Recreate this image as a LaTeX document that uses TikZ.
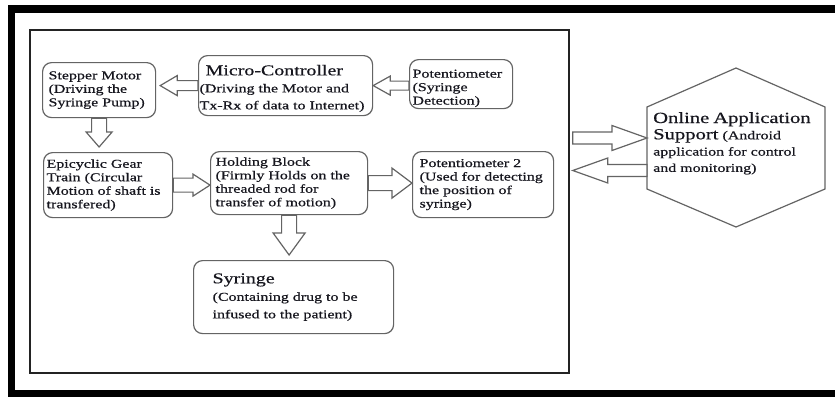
\documentclass[tikz,border=0pt]{standalone}
\usepackage{fontspec}
\setmainfont{Liberation Serif}[FakeStretch=1.33,FakeBold=0.6]
\usepackage{tikz}
\usetikzlibrary{arrows.meta,calc}
\definecolor{boxline}{RGB}{100,100,100}
\definecolor{inkcol}{RGB}{22,22,30}
\definecolor{panelcol}{RGB}{35,35,35}
% hollow block arrow: #1 shaft half width, #2 head half width, #3 head length, #4 tail, #5 tip
\newcommand{\blockarrow}[5]{%
  \coordinate (ba-base) at ($(#5)!#3!(#4)$);
  \draw[fatarrow] ($(#4)!#1!90:(#5)$) -- ($(ba-base)!#1!90:(#5)$) -- ($(ba-base)!#2!90:(#5)$) -- (#5)
    -- ($(ba-base)!#2!-90:(#5)$) -- ($(ba-base)!#1!-90:(#5)$) -- ($(#4)!#1!-90:(#5)$) -- cycle;}

\begin{document}
\begin{tikzpicture}[x=1pt,y=-1pt,
    box/.style={rectangle,draw=boxline,line width=1.2pt,rounded corners=9pt,anchor=north west,align=left,
      inner xsep=1pt,inner ysep=1pt,text=inkcol,font=\fontsize{12}{13.5}\selectfont},
    textindent/.style={execute at begin node={\leftskip=#1}},
    fatarrow/.style={draw=boxline,fill=white,line width=1.2pt,line join=miter},
    hexline/.style={draw=boxline,line width=1.2pt}]
  \useasboundingbox (0,0) rectangle (835,399);
  \fill[white] (0,0) rectangle (835,399);
  \clip (0,0) rectangle (835,399);
  % outer frame, cut off on the right
  \draw[line width=7.5pt] (11.5,9) rectangle (860,393.5);
  \node[draw=panelcol,line width=2.5pt,minimum width=539pt,minimum height=343pt,inner sep=0pt] (panel) at (299.5,201.5) {};

  \node[box,text width=111pt,minimum height=55pt,textindent=5pt] (stepper) at (42,62)
    {Stepper Motor\\(Driving the\\Syringe Pump)};
  \node[box,text width=172pt,minimum height=60pt,text height=16pt,font=\fontsize{12}{17}\selectfont] (mcu) at (198,55)
    {\hspace*{6pt}{\fontsize{15}{17}\selectfont Micro-Controller}\\(Driving the Motor and\\Tx-Rx of data to Internet)};
  \node[box,text width=101pt,minimum height=49pt,text height=16.5pt,textindent=2pt] (pot1) at (409,59)
    {Potentiometer\\(Syringe\\Detection)};
  \node[box,text width=127pt,minimum height=65pt,textindent=2pt] (epi) at (43,152)
    {Epicyclic Gear\\Train (Circular\\Motion of shaft is\\transfered)};
  \node[box,text width=155pt,minimum height=63pt,textindent=4pt] (hold) at (210,151)
    {Holding Block\\(Firmly Holds on the\\threaded rod for\\transfer of motion)};
  \node[box,text width=139pt,minimum height=66pt,textindent=6pt] (pot2) at (412,151)
    {Potentiometer 2\\(Used for detecting\\the position of\\syringe)};
  \node[box,text width=198pt,minimum height=73pt,textindent=18pt,font=\fontsize{12}{17.5}\selectfont] (syr) at (193,260)
    {{\fontsize{15}{17.5}\selectfont Syringe}\\(Containing drug to be\\infused to the patient)};

  % online application hexagon
  \coordinate (hexn) at (736,68);
  \coordinate (hexne) at (825,107);
  \coordinate (hexse) at (825,189);
  \coordinate (hexs) at (736,227);
  \coordinate (hexsw) at (647,189);
  \coordinate (hexnw) at (647,107);
  \draw[hexline] (hexn) -- (hexne) -- (hexse) -- (hexs) -- (hexsw) -- (hexnw) -- cycle;
  \node[anchor=base west,text width=172pt,align=left,inner sep=2pt,text=inkcol,font=\fontsize{12}{16.3}\selectfont] (app) at (651,123)
    {{\fontsize{15.5}{16.3}\selectfont Online Application}\\{\fontsize{15.5}{16.3}\selectfont Support} (Android\\application for control\\and monitoring)};

  % block arrows
  \path (stepper.east |- mcu.west) ++(4,0) coordinate (stepper-in);
  \blockarrow{5pt}{10pt}{17pt}{mcu.west}{stepper-in}
  \coordinate (pot1-out) at (pot1.west |- mcu.east);
  \blockarrow{4.5pt}{9.5pt}{17pt}{pot1-out}{mcu.east}
  \path (stepper.south |- epi.north) ++(0,-5) coordinate (epi-in);
  \blockarrow{7.5pt}{13pt}{15pt}{stepper.south}{epi-in}
  \coordinate (hold-in) at (hold.west |- epi.east);
  \blockarrow{7pt}{11pt}{17pt}{epi.east}{hold-in}
  \coordinate (pot2-in) at (pot2.west |- hold.east);
  \blockarrow{7.5pt}{15pt}{20pt}{hold.east}{pot2-in}
  \path (hold.south |- syr.north) ++(0,-5) coordinate (syr-in);
  \blockarrow{7.5pt}{16pt}{22pt}{hold.south}{syr-in}
  \path (panel.east) ++(2.5,-63.5) coordinate (panel-out);
  \coordinate (app-in) at (hexnw |- panel-out);
  \blockarrow{6pt}{12.5pt}{35pt}{panel-out}{app-in}
  \path (panel.east) ++(2.5,-31) coordinate (panel-in);
  \coordinate (app-out) at (hexnw |- panel-in);
  \blockarrow{6pt}{12.5pt}{35pt}{app-out}{panel-in}
\end{tikzpicture}
\end{document}
